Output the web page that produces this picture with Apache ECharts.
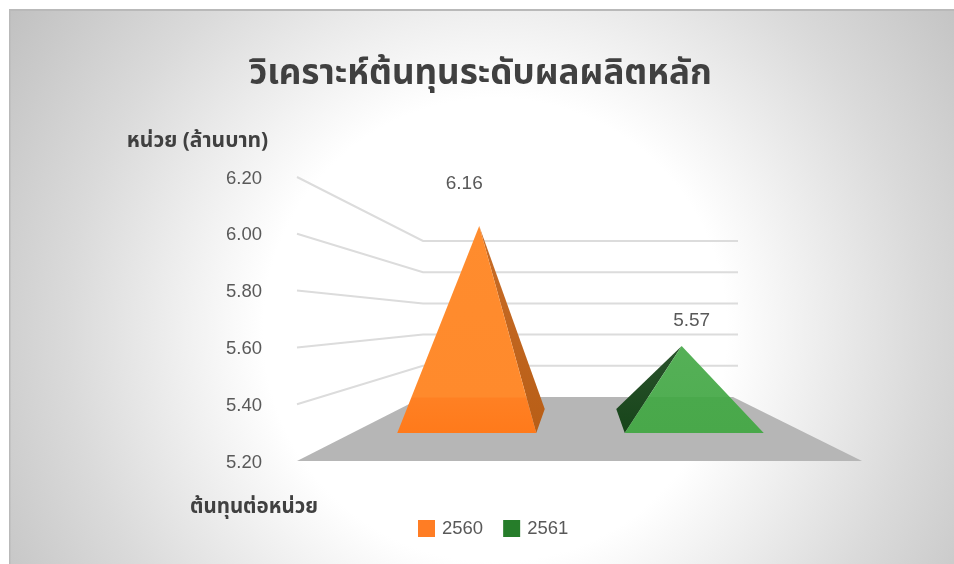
<!DOCTYPE html>
<html><head><meta charset="utf-8">
<style>html,body{margin:0;padding:0;background:#fff}
#c{width:954px;height:564px;position:relative}
#top,#left{position:absolute;left:0;top:0}
#top{width:954px;height:9px;background:linear-gradient(90deg,#e8e8e8 0,#f0f0ee 90px,#f6f6f4 125px,#ecefed 220px,#fff 250px,#fff 280px,#eeeeea 300px,#f0f0ec 395px,#fff 400px,#fff 455px,#e4e8f2 480px,#eef0f4 518px,#fff 522px,#f2f2f0 530px,#f0f0ee 640px,#e9e9e5 650px,#ebebe7 770px,#fff 780px,#fff 830px,#dde5dd 850px,#f2f4f0 900px,#d8e2d8 945px)}
#left{width:9px;height:564px;background:linear-gradient(180deg,#fff 0,#fff 32px,#e8e8e8 40px,#f6f6f6 60px,#fbfbf8 95px,#f7efc6 108px,#e4e0ea 128px,#f4f4f2 150px,#e6e6e4 190px,#dcdcda 205px,#f0f0ee 225px,#dfe9d6 238px,#dfe9d6 258px,#faf4e4 265px,#faf4e4 288px,#fcfbf7 305px,#fff 325px,#fff 100%)}
</style>
<script src="https://cdn.jsdelivr.net/npm/echarts@6/dist/echarts.min.js"></script>
</head><body><div id="c"><div id="top"></div><div id="left"></div></div>
<script>
const titleText = 'วิเคราะห์ต้นทุนระดับผลผลิตหลัก';
const yAxisTitle = 'หน่วย (ล้านบาท)';
const categories = ['ต้นทุนต่อหน่วย'];
const seriesNames = ['2560', '2561'];
const values2560 = [6.16];
const values2561 = [5.57];
const yTicks = [5.2, 5.4, 5.6, 5.8, 6.0, 6.2];
const COLORS = { orange: '#ff7d24', green: '#267d2a' };
const FONT = '"Noto Sans","Noto Sans Thai","Liberation Sans",sans-serif';
const NUMFONT = '"Liberation Sans",Arial,sans-serif';
const chart = echarts.init(document.getElementById('c'), null, {renderer:'canvas'});

const yAxisBase = {type:'value', min:5.2, max:6.2, interval:0.2, splitLine:{show:false}, axisLine:{show:false}, axisTick:{show:false}};
const xAxisBase = {type:'category', data:categories, axisLine:{show:false}, axisTick:{show:false}, axisLabel:{show:false}};
const VP = 580, APEX_K = 0.89, HALF_BASE = 69.5, DEPTH_DX = 8.5, DEPTH_DY = 24;

function pyramid(idx, colors, labelOffset) {
  return function(params, api) {
    const v = api.value(1);
    const c = api.coord([api.value(0), v]);
    const base = api.coord([api.value(0), 5.2]);
    const bw = api.size([1, 0])[0] / 2;
    const cx = c[0] + (idx === 0 ? -bw / 2 : bw / 2);
    const apexX = VP + (cx - VP) * APEX_K;
    const frontY = base[1] + 12, sideSign = idx === 0 ? 1 : -1;
    const l = [cx - HALF_BASE, frontY], r = [cx + HALF_BASE, frontY];
    const near = idx === 0 ? r : l;
    const side = [near[0] + sideSign * DEPTH_DX, frontY - DEPTH_DY];
    const apex = [apexX, c[1]];
    const floorY = chart.convertToPixel({yAxisIndex:1}, 5.2);
    const t = (floorY - apex[1]) / (frontY - apex[1]);
    const front = new echarts.graphic.LinearGradient(0, apex[1], 0, frontY, [
      {offset:0, color:colors[0]}, {offset:t, color:colors[1]},
      {offset:Math.min(t+0.005,1), color:colors[2]}, {offset:1, color:colors[3]}], true);
    const sideFill = new echarts.graphic.LinearGradient(0,0,0,1,[{offset:0,color:colors[4]},{offset:1,color:colors[5]}]);
    const poly = (pts, fill) => ({type:'polygon', shape:{points:pts}, style:{fill}});
    return {type:'group', children:[
      poly([apex, near, side], sideFill),
      poly([apex, l, r], front),
      {type:'text', style:{text:v.toFixed(2), x:apex[0]+labelOffset[0], y:apex[1]+labelOffset[1], align:'center', verticalAlign:'middle', fill:'#595959', font:'19px '+NUMFONT}}
    ]};
  };
}

const option = {
  animation:false,
  backgroundColor:'transparent',
  graphic:[
    {type:'rect', z:-10, shape:{x:9,y:9,width:945,height:555}, style:{
      fill:new echarts.graphic.RadialGradient(495,330,610,[{offset:0,color:'#fff'},{offset:0.38,color:'#fff'},{offset:0.7,color:'#dadada'},{offset:1,color:'#bcbcbc'}],true)}},
    {type:'rect', z:-9, shape:{x:9,y:9,width:945,height:2}, style:{fill:'#b9b9b9'}},
    {type:'rect', z:-9, shape:{x:9,y:9,width:1.5,height:555}, style:{fill:'#b9b9b9'}}
  ],
  title:[
    {text:titleText, left:475.5, top:52, textAlign:'center', textStyle:{fontFamily:FONT, fontSize:35, fontWeight:'bold', color:'#404040'}},
    {text:yAxisTitle, left:192.5, top:126, textAlign:'center', textStyle:{fontFamily:FONT, fontSize:21, fontWeight:'bold', color:'#404040'}},
    {text:categories[0], left:249, top:492, textAlign:'center', textStyle:{fontFamily:FONT, fontSize:20.5, fontWeight:'bold', color:'#404040'}}
  ],
  legend:{data:seriesNames, left:413, top:514, itemWidth:17, itemHeight:17, itemGap:20, icon:'rect', textStyle:{fontFamily:NUMFONT, fontSize:18.5, color:'#595959', padding:[0,0,0,2]}},
  grid:[
    {left:297, width:565, top:177, height:284},
    {left:423, width:315, top:241, height:156},
    {left:353, width:455, top:218, height:203},
    {left:297, width:565, top:178.5, height:284}
  ],
  xAxis:[
    Object.assign({gridIndex:0}, xAxisBase),
    Object.assign({gridIndex:1}, xAxisBase),
    Object.assign({gridIndex:2}, xAxisBase),
    Object.assign({gridIndex:3}, xAxisBase)
  ],
  yAxis:[
    Object.assign({gridIndex:0}, yAxisBase, {axisLabel:{show:false}}),
    Object.assign({gridIndex:1}, yAxisBase, {axisLabel:{show:false}}),
    Object.assign({gridIndex:2}, yAxisBase, {axisLabel:{show:false}}),
    Object.assign({gridIndex:3}, yAxisBase, {axisLabel:{margin:35, color:'#595959', fontSize:18.5, fontFamily:NUMFONT, formatter:v=>v.toFixed(2)}})
  ],
  series:[
    {type:'custom', name:'floor', xAxisIndex:0, yAxisIndex:0, z:1, silent:true, data:[[5.2]],
      renderItem:(p,api)=>{
        const front = p.coordSys;
        const y = api.coord([0, api.value(0)])[1];
        const backY = chart.convertToPixel({yAxisIndex:1}, api.value(0));
        return {type:'polygon', shape:{points:[[front.x,y],[front.x+front.width,y],[733,backY],[423,backY]]}, style:{fill:'#b6b6b6'}};
      }, encode:{y:0}},
    {type:'custom', name:'walls', xAxisIndex:0, yAxisIndex:0, z:2, silent:true, data:yTicks.slice(1).map(v=>[v]),
      renderItem:(p,api)=>{
        const front = p.coordSys;
        const v = api.value(0);
        const y = api.coord([0, v])[1];
        const backY = chart.convertToPixel({yAxisIndex:1}, v);
        return {type:'polyline', shape:{points:[[front.x,y],[423,backY],[738,backY]]}, style:{stroke:'#dcdcdc', lineWidth:2, fill:null}};
      }, encode:{y:0}},
    {type:'custom', name:seriesNames[0], xAxisIndex:2, yAxisIndex:2, z:3, itemStyle:{color:COLORS.orange},
      renderItem:pyramid(0,['#ff8c2e','#ff8a2c','#ff8023','#ff7a1b','#c96d28','#b85e16'],[-15,-42.5]),
      data:[[0, values2560[0]]], encode:{x:0,y:1}},
    {type:'custom', name:seriesNames[1], xAxisIndex:2, yAxisIndex:2, z:3, itemStyle:{color:COLORS.green},
      renderItem:pyramid(1,['#55b057','#51ae53','#4aa94c','#49a84a','#2a522c','#17451a'],[10,-25.5]),
      data:[[0, values2561[0]]], encode:{x:0,y:1}}
  ]
};
chart.setOption(option);
</script></body></html>
